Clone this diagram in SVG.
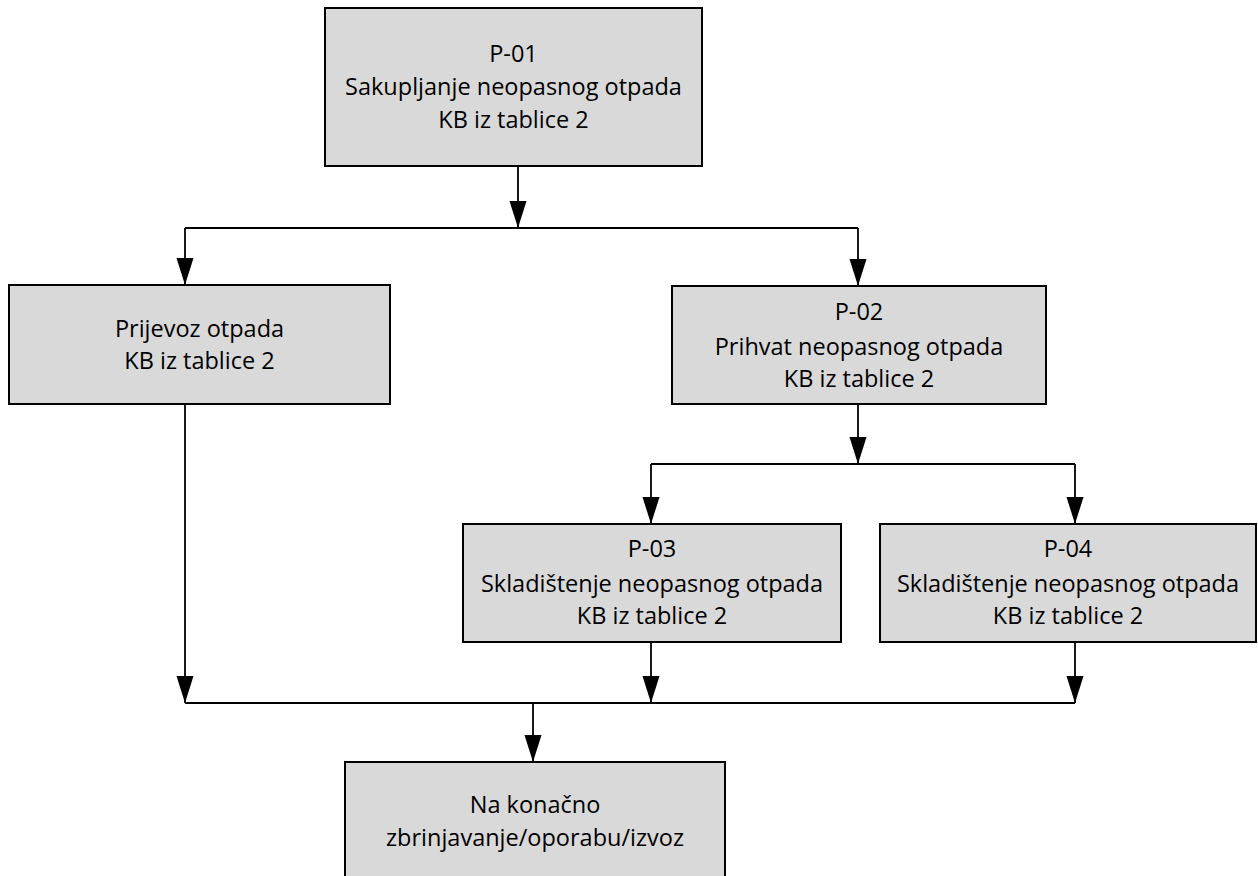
<svg xmlns="http://www.w3.org/2000/svg" width="1258" height="876" viewBox="0 0 1258 876">
<style>
.box{fill:#d9d9d9;stroke:#000;stroke-width:2}
.t{font-family:"Open Sans","Liberation Sans",sans-serif;font-size:23.5px;fill:#000;text-anchor:middle}
.c{fill:none;stroke:#000;stroke-width:1.8}
</style>
<defs>
<marker id="ah" markerUnits="userSpaceOnUse" markerWidth="28" markerHeight="18" refX="27" refY="8.5" orient="auto">
<path d="M0,0 L27,8.5 L0,17 z" fill="#000"/>
</marker>
</defs>
<rect width="1258" height="876" fill="#fff"/>
<g id="connectors">
<path class="c" d="M518,167 V228" marker-end="url(#ah)"/>
<path class="c" d="M185,228 H858"/>
<path class="c" d="M185,228 V285" marker-end="url(#ah)"/>
<path class="c" d="M858,228 V286" marker-end="url(#ah)"/>
<path class="c" d="M858,405 V464" marker-end="url(#ah)"/>
<path class="c" d="M651,464 H1075"/>
<path class="c" d="M651,464 V524" marker-end="url(#ah)"/>
<path class="c" d="M1075,464 V524" marker-end="url(#ah)"/>
<path class="c" d="M185,405 V703" marker-end="url(#ah)"/>
<path class="c" d="M651,643 V703" marker-end="url(#ah)"/>
<path class="c" d="M1075,643 V703" marker-end="url(#ah)"/>
<path class="c" d="M185,703 H1075"/>
<path class="c" d="M533,703 V762" marker-end="url(#ah)"/>
</g>
<g id="p01">
<rect class="box" x="325" y="8" width="377" height="158"/>
<text class="t" x="513.5" y="62">P-01</text>
<text class="t" x="513.5" y="95">Sakupljanje neopasnog otpada</text>
<text class="t" x="513.5" y="128">KB iz tablice 2</text>
</g>
<g id="prijevoz">
<rect class="box" x="9" y="285" width="381" height="119"/>
<text class="t" x="199.5" y="337">Prijevoz otpada</text>
<text class="t" x="199.5" y="369">KB iz tablice 2</text>
</g>
<g id="p02">
<rect class="box" x="672" y="286" width="374" height="118"/>
<text class="t" x="859" y="320">P-02</text>
<text class="t" x="859" y="355">Prihvat neopasnog otpada</text>
<text class="t" x="859" y="387">KB iz tablice 2</text>
</g>
<g id="p03">
<rect class="box" x="463" y="524" width="378" height="118"/>
<text class="t" x="652" y="557">P-03</text>
<text class="t" x="652" y="592">Skladištenje neopasnog otpada</text>
<text class="t" x="652" y="624">KB iz tablice 2</text>
</g>
<g id="p04">
<rect class="box" x="880" y="524" width="376" height="118"/>
<text class="t" x="1068" y="557">P-04</text>
<text class="t" x="1068" y="592">Skladištenje neopasnog otpada</text>
<text class="t" x="1068" y="624">KB iz tablice 2</text>
</g>
<g id="final">
<rect class="box" x="345" y="762" width="380" height="130"/>
<text class="t" x="535" y="813">Na konačno</text>
<text class="t" x="535" y="846">zbrinjavanje/oporabu/izvoz</text>
</g>
</svg>
